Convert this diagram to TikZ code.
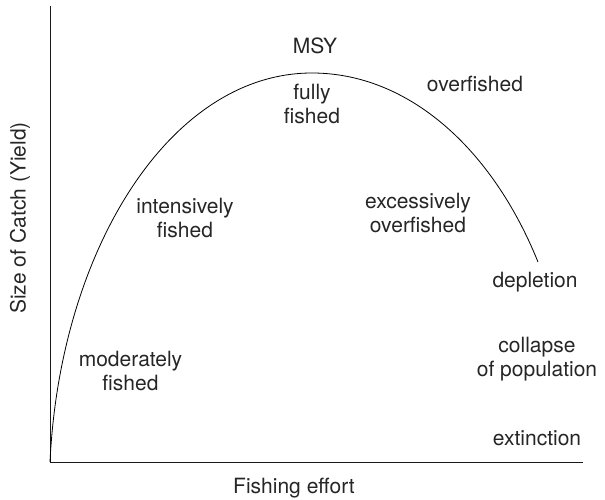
\documentclass[tikz,border=0pt]{standalone}
\usepackage{fontspec}
\setmainfont{TeX Gyre Heros}
\begin{document}
\begin{tikzpicture}[x=1pt,y=-1pt,
  lbl/.style={font=\fontsize{21}{24}\selectfont, inner sep=0pt, align=center, anchor=base, text=black!85},
  axis/.style={line width=1pt, black!90},
  yieldcurve/.style={line width=0.8pt, black}]
\useasboundingbox (0,0) rectangle (605,500);
\coordinate (top) at (50,6);
\coordinate (origin) at (50,462);
\coordinate (xend) at (583,462);
\coordinate (peak) at (312,73);
\coordinate (cend) at (538,262);
\draw[axis] (top) -- (origin) -- (xend);
\draw[yieldcurve] (origin) .. controls (60,250) and (170,73) .. (peak)
  .. controls (408,73) and (492,148) .. (cend);
\node[lbl] (msy) at (315,54) {MSY};
\node[lbl] (full) at (312,124) {fully\\fished};
\node[lbl] (over) at (475,92) {overfished};
\node[lbl] (inten) at (185,237) {intensively\\fished};
\node[lbl] (exces) at (418,232) {excessively\\overfished};
\node[lbl] (depl) at (535,287) {depletion};
\node[lbl] (coll) at (537,376) {collapse\\of population};
\node[lbl] (ext) at (537,445) {extinction};
\node[lbl] (mod) at (130.5,390) {moderately\\fished};
\node[lbl] (xlab) at (294,493) {Fishing effort};
\node[lbl, rotate=90] (ylab) at (25.5,218) {Size of Catch (Yield)};
\end{tikzpicture}
\end{document}
